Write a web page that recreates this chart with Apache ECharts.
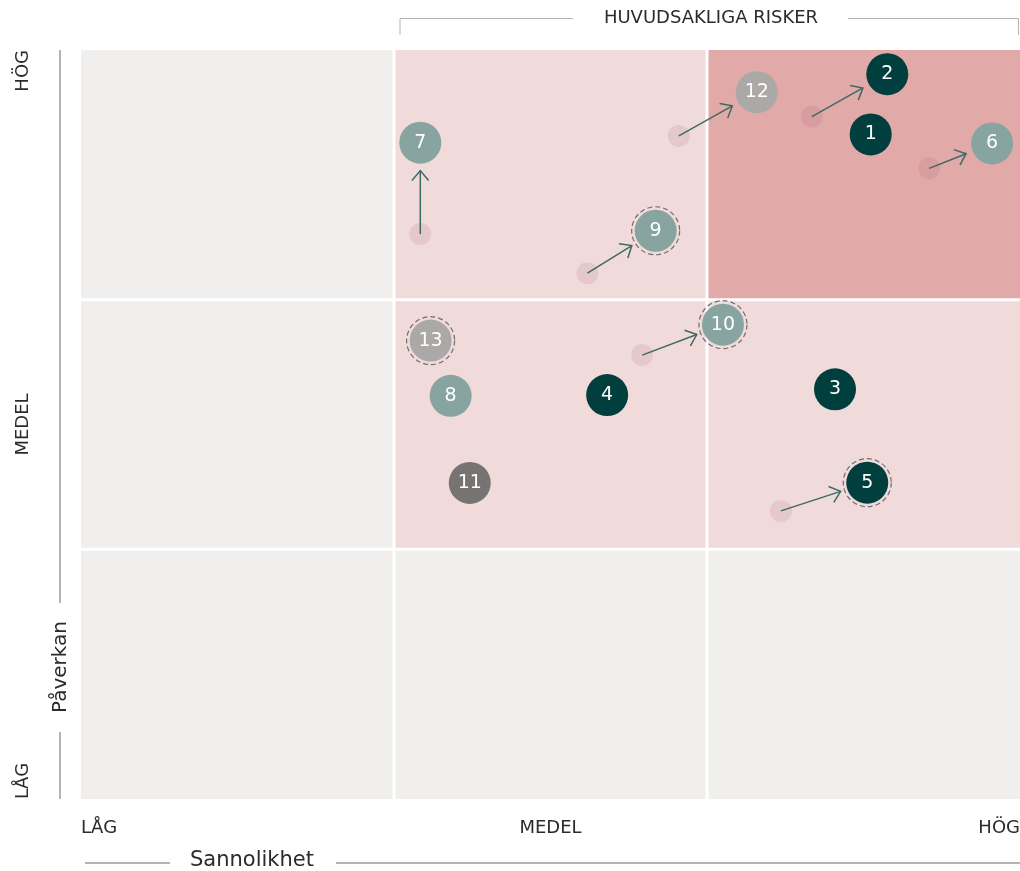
<!DOCTYPE html>
<html><head><meta charset="utf-8">
<script src="https://cdn.jsdelivr.net/npm/echarts@6/dist/echarts.min.js"></script>
<style>html,body{margin:0;padding:0;background:#fff}#c{width:1020px;height:871px}</style>
</head><body><div id="c"></div>
<script>
// ---- data ----
const riskIds      = ['1','2','3','4','5','6','7','8','9','10','11','12','13'];
const sannolikhet  = [2.523, 2.576, 2.409, 1.681, 2.512, 2.911, 1.084, 1.181, 1.836, 2.051, 1.242, 2.159, 1.117];
const paverkan     = [2.662, 2.903, 1.641, 1.618, 1.267, 2.626, 2.629, 1.615, 2.276, 1.900, 1.266, 2.831, 1.836];
const riskGroup    = ['A','A','A','A','A','B','B','B','B','B','D','C','C'];
const dashedRisks  = ['5','9','10','13'];
// previous positions (moved risks)
const prevIds         = ['12','2','6','7','9','10','5'];
const prevSannolikhet = [1.910, 2.335, 2.710, 1.084, 1.618, 1.793, 2.236];
const prevPaverkan    = [2.656, 2.733, 2.526, 2.263, 2.106, 1.778, 1.154];
// heat-map cell levels, rows from bottom (LÅG) to top (HÖG), columns LÅG..HÖG
const cellLevels = [
  [0, 0, 0],
  [0, 1, 1],
  [0, 1, 2]
];
const xTickLabels = ['LÅG', 'MEDEL', 'HÖG'];
const yTickLabels = ['LÅG', 'MEDEL', 'HÖG'];
const xAxisTitle = 'Sannolikhet';
const yAxisTitle = 'Påverkan';
const bracketTitle = 'HUVUDSAKLIGA RISKER';

// ---- styles ----
const FONT = '"DejaVu Sans", sans-serif';
const cellColors = ['#f0efed', '#f1dada', '#e2a9a9'];
const groupColors = { A: '#003f3d', B: '#87a4a1', C: '#aaa9a7', D: '#757473' };
const arrowColor = '#3d6a66';
const decoColor = '#b4b4b4';
const textColor = '#2b2b2b';

const cellData = [];
cellLevels.forEach((row, r) => row.forEach((lvl, c) => cellData.push([c, r, lvl])));

const mainData = riskIds.map((id, i) => ({
  name: id, value: [sannolikhet[i], paverkan[i]],
  itemStyle: { color: groupColors[riskGroup[i]], opacity: 1 }
}));
const ringData = riskIds.map((id, i) => dashedRisks.includes(id) ? [sannolikhet[i], paverkan[i]] : null).filter(Boolean);
const prevData = prevIds.map((id, i) => [prevSannolikhet[i], prevPaverkan[i]]);
const arrowData = prevIds.map((id, i) => {
  const k = riskIds.indexOf(id);
  return [prevSannolikhet[i], prevPaverkan[i], sannolikhet[k], paverkan[k]];
});

const chart = echarts.init(document.getElementById('c'), null, { renderer: 'canvas' });
const option = {
  backgroundColor: '#ffffff',
  animation: false,
  grid: { left: 81, right: 0, top: 50, bottom: 72, outerBoundsMode: 'none', containLabel: false },
  xAxis: {
    type: 'value', min: 0, max: 3, interval: 1.5,
    axisLine: { show: false }, axisTick: { show: false }, splitLine: { show: false },
    axisLabel: {
      formatter: v => xTickLabels[Math.round(v / 1.5)],
      color: textColor, fontSize: 18, fontFamily: FONT, margin: 20,
      alignMinLabel: 'left', alignMaxLabel: 'right'
    }
  },
  yAxis: {
    type: 'value', min: 0, max: 3, interval: 1.5,
    axisLine: { show: false }, axisTick: { show: false }, splitLine: { show: false },
    axisLabel: {
      formatter: v => yTickLabels[Math.round(v / 1.5)],
      color: textColor, fontSize: 18, fontFamily: FONT, margin: 49, rotate: 90,
      alignMinLabel: 'left', alignMaxLabel: 'right'
    }
  },
  graphic: [
    { type: 'polyline', shape: { points: [[400, 35], [400, 18.5], [573, 18.5]] }, style: { stroke: decoColor, lineWidth: 1, fill: null } },
    { type: 'polyline', shape: { points: [[848, 18.5], [1018.5, 18.5], [1018.5, 35]] }, style: { stroke: decoColor, lineWidth: 1, fill: null } },
    { type: 'text', x: 711, y: 18, style: { text: bracketTitle, fill: textColor, font: '18px ' + FONT, textAlign: 'center', textVerticalAlign: 'middle' } },
    { type: 'line', shape: { x1: 60, y1: 50, x2: 60, y2: 603 }, style: { stroke: decoColor, lineWidth: 2 } },
    { type: 'line', shape: { x1: 60, y1: 732, x2: 60, y2: 799 }, style: { stroke: decoColor, lineWidth: 2 } },
    { type: 'text', x: 61, y: 667, rotation: Math.PI / 2, style: { text: yAxisTitle, fill: textColor, font: '20px ' + FONT, textAlign: 'center', textVerticalAlign: 'middle' } },
    { type: 'line', shape: { x1: 85, y1: 863, x2: 170, y2: 863 }, style: { stroke: decoColor, lineWidth: 2 } },
    { type: 'line', shape: { x1: 336, y1: 863, x2: 1020, y2: 863 }, style: { stroke: decoColor, lineWidth: 2 } },
    { type: 'text', x: 252, y: 861, style: { text: xAxisTitle, fill: textColor, font: '21px ' + FONT, textAlign: 'center', textVerticalAlign: 'middle' } }
  ],
  series: [
    {
      type: 'custom', name: 'cells', z: 0, silent: true, data: cellData,
      encode: { x: 0, y: 1 },
      renderItem: (params, api) => {
        const c = api.value(0), r = api.value(1), lvl = api.value(2);
        const tl = api.coord([c, r + 1]), br = api.coord([c + 1, r]);
        const g = 1.5;
        const x0 = tl[0] + (c > 0 ? g : 0), x1 = br[0] - (c < 2 ? g : 0);
        const y0 = tl[1] + (r < 2 ? g : 0), y1 = br[1] - (r > 0 ? g : 0);
        return { type: 'rect', shape: { x: x0, y: y0, width: x1 - x0, height: y1 - y0 }, style: { fill: cellColors[lvl] } };
      }
    },
    {
      type: 'scatter', name: 'prev', z: 1, silent: true, data: prevData, symbolSize: 22,
      itemStyle: { color: 'rgba(150,80,90,0.12)', opacity: 1 }
    },
    {
      type: 'custom', name: 'arrows', z: 2, silent: true, data: arrowData,
      encode: { x: [0, 2], y: [1, 3] },
      renderItem: (params, api) => {
        const p0 = api.coord([api.value(0), api.value(1)]);
        const p1 = api.coord([api.value(2), api.value(3)]);
        const dx = p1[0] - p0[0], dy = p1[1] - p0[1];
        const len = Math.hypot(dx, dy), ux = dx / len, uy = dy / len;
        const gap = 28;
        const ex = p1[0] - ux * gap, ey = p1[1] - uy * gap;
        const h = 13, a = 40 * Math.PI / 180, ca = Math.cos(a), sa = Math.sin(a);
        const b1 = [ex - h * (ux * ca - uy * sa), ey - h * (uy * ca + ux * sa)];
        const b2 = [ex - h * (ux * ca + uy * sa), ey - h * (uy * ca - ux * sa)];
        return {
          type: 'group', children: [
            { type: 'line', shape: { x1: p0[0], y1: p0[1], x2: ex, y2: ey }, style: { stroke: arrowColor, lineWidth: 1.5 } },
            { type: 'polyline', shape: { points: [b1, [ex, ey], b2] }, style: { stroke: arrowColor, lineWidth: 1.5, fill: null } }
          ]
        };
      }
    },
    {
      type: 'scatter', name: 'rings', z: 3, silent: true, data: ringData, symbolSize: 48,
      itemStyle: { color: 'rgba(0,0,0,0)', borderColor: '#6e6e6e', borderWidth: 1.2, borderType: [5, 3], opacity: 1 }
    },
    {
      type: 'scatter', name: 'risks', z: 4, data: mainData, symbolSize: 42,
      itemStyle: { opacity: 1 },
      label: { show: true, position: 'inside', formatter: '{b}', color: '#ffffff', fontSize: 19, fontFamily: FONT }
    }
  ]
};
chart.setOption(option);
</script>
</body></html>
